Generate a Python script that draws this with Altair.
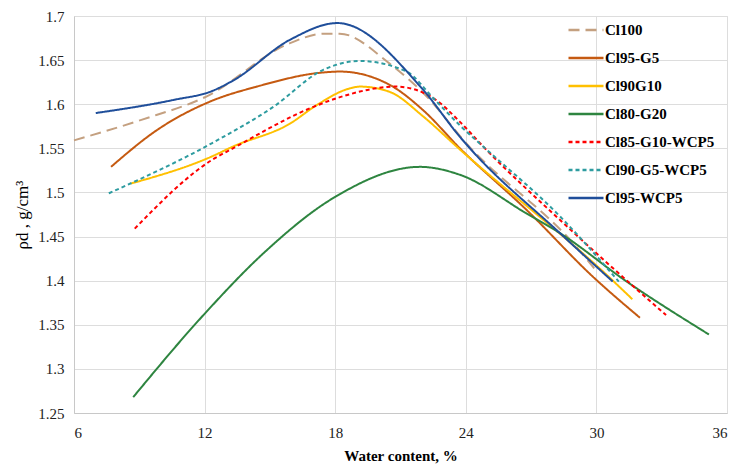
import altair as alt
import pandas as pd

series_names = ["Cl100", "Cl95-G5", "Cl90G10", "Cl80-G20",
                "Cl85-G10-WCP5", "Cl90-G5-WCP5", "Cl95-WCP5"]
colors = ["#C4A080", "#C55A11", "#FFC000", "#2E8540",
          "#FF0000", "#2E9CA0", "#1F4E9A"]
dashes = [[11, 6], [1, 0], [1, 0], [1, 0], [4, 3], [4, 3], [1, 0]]

cl100_w = [6.0, 9.06, 12.1, 15.9, 17.45, 18.2, 20.5, 22.35, 23.9, 29.09, 29.9]
cl100_d = [1.559, 1.582, 1.609, 1.669, 1.680, 1.680, 1.646, 1.605, 1.559, 1.438, 1.414]

cl95g5_w = [7.7, 9.83, 12.35, 14.4, 17.45, 18.22, 20.5, 22.05, 23.73, 26.8, 29.86, 32.0]
cl95g5_d = [1.529, 1.571, 1.604, 1.620, 1.636, 1.637, 1.622, 1.593, 1.550, 1.480, 1.404, 1.358]

cl90g10_w = [8.6, 12.35, 13.3, 15.92, 17.15, 18.68, 19.14, 20.5, 22.05, 23.58, 30.8, 31.65]
cl90g10_d = [1.510, 1.541, 1.552, 1.578, 1.599, 1.618, 1.620, 1.614, 1.586, 1.552, 1.399, 1.379]

cl80g20_w = [8.72, 12.02, 14.7, 18.0, 21.9, 23.73, 26.8, 28.32, 31.39, 35.17]
cl80g20_d = [1.268, 1.363, 1.431, 1.495, 1.529, 1.520, 1.476, 1.454, 1.399, 1.339]

cl85_w = [8.79, 12.35, 13.3, 17.0, 18.22, 20.8, 22.5, 23.73, 24.8, 28.32, 32.0, 33.2]
cl85_d = [1.459, 1.537, 1.550, 1.597, 1.608, 1.620, 1.607, 1.580, 1.552, 1.469, 1.387, 1.361]

cl90g5_w = [7.6, 12.35, 15.16, 17.45, 19.14, 21.28, 22.5, 23.73, 24.8, 28.32, 31.03]
cl90g5_d = [1.499, 1.556, 1.597, 1.639, 1.649, 1.637, 1.607, 1.576, 1.552, 1.473, 1.399]

cl95w_w = [7.0, 10.6, 12.35, 13.32, 15.92, 18.1, 22.05, 23.73, 24.19, 28.32, 30.75]
cl95w_d = [1.590, 1.605, 1.615, 1.627, 1.673, 1.692, 1.616, 1.563, 1.550, 1.454, 1.399]

all_w = [cl100_w, cl95g5_w, cl90g10_w, cl80g20_w, cl85_w, cl90g5_w, cl95w_w]
all_d = [cl100_d, cl95g5_d, cl90g10_d, cl80g20_d, cl85_d, cl90g5_d, cl95w_d]

rows = []
for i, (name, ws, ds) in enumerate(zip(series_names, all_w, all_d)):
    for j, (w, d) in enumerate(zip(ws, ds)):
        rows.append({"series": name, "order": i, "idx": j, "w": w, "d": d})
df = pd.DataFrame(rows)

FONT = "Liberation Serif, DejaVu Serif, serif"

axis_common = dict(labelFont=FONT, titleFont=FONT, labelFontSize=15,
                   labelColor="#222222", titleColor="#000000",
                   gridColor="#DDDDDD", gridWidth=1, domainColor="#C8C8C8",
                   ticks=False, grid=True)

chart = alt.Chart(df).mark_line(interpolate="monotone", strokeWidth=2).encode(
    x=alt.X("w:Q", title="Water content, %",
            scale=alt.Scale(domain=[6, 36], nice=False, zero=False),
            axis=alt.Axis(values=[6, 12, 18, 24, 30, 36], format="d",
                          labelPadding=12, titlePadding=8, titleFontSize=15,
                          titleFontWeight="bold", **axis_common)),
    y=alt.Y("d:Q", title="ρd , g/cm³",
            scale=alt.Scale(domain=[1.25, 1.7], nice=False, zero=False),
            axis=alt.Axis(values=[1.25, 1.3, 1.35, 1.4, 1.45, 1.5, 1.55, 1.6, 1.65, 1.7],
                          format=".3~r", labelPadding=10, titlePadding=6,
                          titleFontSize=17,
                          titleFontWeight="normal", **axis_common)),
    color=alt.Color("series:N", title=None,
                    scale=alt.Scale(domain=series_names, range=colors),
                    legend=alt.Legend(orient="none", legendX=493, legendY=-5,
                                      symbolType="stroke", symbolSize=1225,
                                      symbolStrokeWidth=2.5,
                                      labelFont=FONT, labelFontSize=15,
                                      labelFontWeight="bold", labelColor="#000000",
                                      labelLimit=300, rowPadding=1, labelOffset=0)),
    strokeDash=alt.StrokeDash("series:N", title=None,
                              scale=alt.Scale(domain=series_names, range=dashes)),
    detail="series:N",
    order="idx:Q",
).properties(
    width=653, height=397,
    autosize=alt.AutoSizeParams(type="none"),
    padding={"left": 74, "top": 16, "right": 9, "bottom": 56},
).configure_view(stroke=None).configure(background="white")

chart.save("out.html", embed_options={"renderer": "svg", "actions": False})
